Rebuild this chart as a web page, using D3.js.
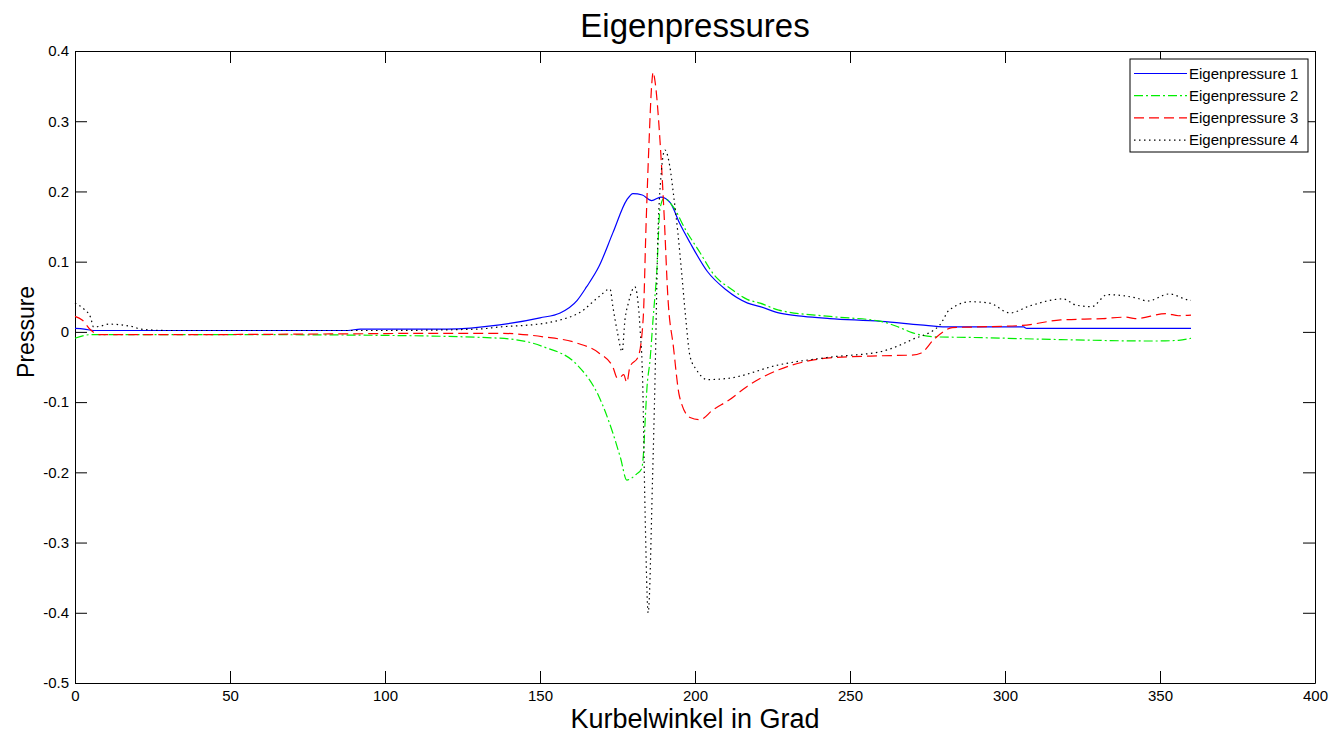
<!DOCTYPE html>
<html>
<head>
<meta charset="utf-8">
<script src="https://cdn.jsdelivr.net/npm/d3@7"></script>
<style>
  body { margin: 0; background: #fff; }
  svg { display: block; font-family: Arial, "Liberation Sans", sans-serif; }
</style>
</head>
<body>
<svg></svg>
<script>
// Eigenpressure 1 (blue, solid)
let angle1 = [0, 3, 6, 20, 50, 88, 92, 120, 137, 150, 156.5, 162, 165, 169, 173.5, 178, 180, 183, 186, 189, 192, 195, 198.4, 204, 210, 217, 221, 227, 235, 243.5, 260, 272.6, 281, 306, 307, 360];
let pressure1 = [0.005, 0.004, 0.002, 0.002, 0.002, 0.002, 0.004, 0.004, 0.010, 0.020, 0.027, 0.045, 0.064, 0.093, 0.141, 0.188, 0.197, 0.195, 0.187, 0.192, 0.184, 0.155, 0.127, 0.086, 0.060, 0.041, 0.036, 0.027, 0.022, 0.019, 0.015, 0.010, 0.007, 0.007, 0.005, 0.005];

// Eigenpressure 2 (green, dash-dot)
let angle2 = [0, 5, 20, 60, 100, 137, 151, 162, 169, 173.5, 176, 178, 181, 182.8, 183.3, 184, 184.5, 185.5, 186.5, 187.7, 188.7, 190, 193, 197, 201.6, 206, 212, 217, 221, 227, 243.5, 260, 265, 270, 277, 290, 318, 348, 356, 360];
let pressure2 = [-0.009, -0.004, -0.004, -0.004, -0.005, -0.009, -0.021, -0.047, -0.092, -0.144, -0.180, -0.211, -0.203, -0.195, -0.178, -0.120, -0.080, -0.040, 0.020, 0.088, 0.175, 0.190, 0.178, 0.145, 0.113, 0.082, 0.060, 0.046, 0.041, 0.031, 0.022, 0.015, 0.008, -0.001, -0.007, -0.008, -0.011, -0.013, -0.012, -0.009];

// Eigenpressure 3 (red, dashed)
let angle3 = [0, 2.3, 5, 8, 30, 80, 120, 137, 151, 162, 169, 173.5, 175, 176, 177, 178, 179, 181.7, 183.3, 184.2, 185.2, 186, 186.5, 187, 188.7, 190, 191.3, 193, 195, 198.4, 201.6, 205.8, 211, 216.7, 222, 227, 243.5, 260, 270, 273, 277, 280, 283, 290, 305, 318, 331.6, 339, 342, 352, 356, 360];
let pressure3 = [0.022, 0.017, 0.003, -0.004, -0.004, -0.003, -0.002, -0.002, -0.007, -0.016, -0.030, -0.050, -0.066, -0.064, -0.061, -0.072, -0.050, -0.035, 0.020, 0.150, 0.273, 0.350, 0.370, 0.360, 0.273, 0.170, 0.046, -0.020, -0.092, -0.122, -0.125, -0.111, -0.097, -0.078, -0.064, -0.054, -0.037, -0.034, -0.033, -0.030, -0.011, 0.000, 0.006, 0.007, 0.009, 0.017, 0.019, 0.021, 0.019, 0.026, 0.023, 0.024];

// Eigenpressure 4 (black, dotted)
let angle4 = [0, 3, 5, 6, 8, 11, 19, 21, 30, 60, 100, 130, 137, 151, 156.5, 163, 169, 172.6, 173.5, 175, 176.5, 177.4, 178.5, 180.6, 182.3, 183.1, 183.9, 184.9, 186.3, 187.1, 188, 189, 190.3, 191.9, 193, 194.5, 195.7, 197, 198.4, 200.5, 204, 211, 227, 243.5, 260, 270, 279, 282, 289, 295, 301.6, 308, 318.7, 323, 328, 333, 342.6, 346, 353, 358.7, 360];
let pressure4 = [0.041, 0.032, 0.021, 0.007, 0.008, 0.011, 0.007, 0.004, 0.002, 0.002, 0.002, 0.004, 0.007, 0.012, 0.017, 0.028, 0.050, 0.061, 0.036, -0.001, -0.028, 0.017, 0.041, 0.064, 0.003, -0.068, -0.258, -0.400, -0.210, -0.068, 0.131, 0.220, 0.259, 0.235, 0.198, 0.140, 0.084, 0.020, -0.035, -0.054, -0.068, -0.066, -0.047, -0.036, -0.028, -0.011, 0.010, 0.031, 0.043, 0.041, 0.027, 0.037, 0.047, 0.038, 0.036, 0.053, 0.048, 0.044, 0.054, 0.046, 0.045];

let seriesNames = ["Eigenpressure 1", "Eigenpressure 2", "Eigenpressure 3", "Eigenpressure 4"];
let xTicks = [0, 50, 100, 150, 200, 250, 300, 350, 400];
let yTicks = [-0.5, -0.4, -0.3, -0.2, -0.1, 0, 0.1, 0.2, 0.3, 0.4];

let width = 1330;
let height = 735;
let plotLeft = 75;
let plotRight = 1315;
let plotTop = 51;
let plotBottom = 683;
let tickLen = 12;

let colors = ["#0000ff", "#00ee00", "#ff0000", "#000000"];
let dashes = [null, "9,3,2,3", "10,5", "1.5,3.5"];

let svg = d3.select("svg").attr("width", width).attr("height", height);

let xScale = d3.scaleLinear().domain([0, 400]).range([plotLeft, plotRight]);
let yScale = d3.scaleLinear().domain([-0.5, 0.4]).range([plotBottom, plotTop]);

let series = [
  [angle1, pressure1],
  [angle2, pressure2],
  [angle3, pressure3],
  [angle4, pressure4],
].map(([xs, ys], i) => {
  return { name: seriesNames[i], points: xs.map((x, j) => [x, ys[j]]) };
});

// axes, MATLAB style: box with inward ticks
let fmtY = (d) => (d === 0 ? "0" : String(d));

let styleAxis = (g) => {
  g.selectAll("path.domain").attr("stroke", "#000");
  g.selectAll(".tick line").attr("stroke", "#000");
  g.selectAll(".tick text")
    .attr("fill", "#000")
    .style("font-size", "15px")
    .style("font-family", 'Arial, "Liberation Sans", sans-serif');
};

svg
  .append("g")
  .attr("transform", "translate(0, " + plotBottom + ")")
  .call(d3.axisBottom(xScale).tickValues(xTicks).tickFormat(d3.format("d")).tickSizeInner(-tickLen).tickSizeOuter(0).tickPadding(7))
  .call(styleAxis);

svg
  .append("g")
  .attr("transform", "translate(0, " + plotTop + ")")
  .call(d3.axisTop(xScale).tickValues(xTicks).tickFormat("").tickSizeInner(-tickLen).tickSizeOuter(0))
  .call(styleAxis);

svg
  .append("g")
  .attr("transform", "translate(" + plotLeft + ", 0)")
  .call(d3.axisLeft(yScale).tickValues(yTicks).tickFormat(fmtY).tickSizeInner(-tickLen).tickSizeOuter(0).tickPadding(6))
  .call(styleAxis);

svg
  .append("g")
  .attr("transform", "translate(" + plotRight + ", 0)")
  .call(d3.axisRight(yScale).tickValues(yTicks).tickFormat("").tickSizeInner(-tickLen).tickSizeOuter(0))
  .call(styleAxis);

// lines
let line = d3
  .line()
  .curve(d3.curveMonotoneX)
  .x((d) => xScale(d[0]))
  .y((d) => yScale(d[1]));

svg
  .append("g")
  .selectAll("path")
  .data(series)
  .enter()
  .append("path")
  .attr("d", (d) => line(d.points))
  .attr("fill", "none")
  .attr("stroke", (d, i) => colors[i])
  .attr("stroke-width", 1.2)
  .attr("stroke-dasharray", (d, i) => dashes[i]);

// titles
svg
  .append("text")
  .attr("x", (plotLeft + plotRight) / 2)
  .attr("y", 37)
  .attr("text-anchor", "middle")
  .style("font-size", "33px")
  .text("Eigenpressures");

svg
  .append("text")
  .attr("x", (plotLeft + plotRight) / 2)
  .attr("y", 728)
  .attr("text-anchor", "middle")
  .style("font-size", "27px")
  .text("Kurbelwinkel in Grad");

svg
  .append("text")
  .attr("transform", "translate(34, " + yScale(0) + ") rotate(-90)")
  .attr("text-anchor", "middle")
  .style("font-size", "23px")
  .text("Pressure");

// legend
let legend = svg.append("g");

legend
  .append("rect")
  .attr("x", 1130)
  .attr("y", 59)
  .attr("width", 178)
  .attr("height", 93)
  .attr("fill", "#fff")
  .attr("stroke", "#000");

let rows = legend
  .selectAll("g.row")
  .data(series)
  .enter()
  .append("g")
  .attr("class", "row")
  .attr("transform", (d, i) => "translate(1134, " + (73.5 + i * 22.2) + ")");

rows
  .append("line")
  .attr("x1", 0)
  .attr("x2", 53)
  .attr("stroke", (d, i) => colors[i])
  .attr("stroke-width", 1.2)
  .attr("stroke-dasharray", (d, i) => dashes[i]);

rows
  .append("text")
  .attr("x", 55)
  .attr("dy", "0.35em")
  .style("font-size", "15px")
  .text((d) => d.name);
</script>
</body>
</html>
